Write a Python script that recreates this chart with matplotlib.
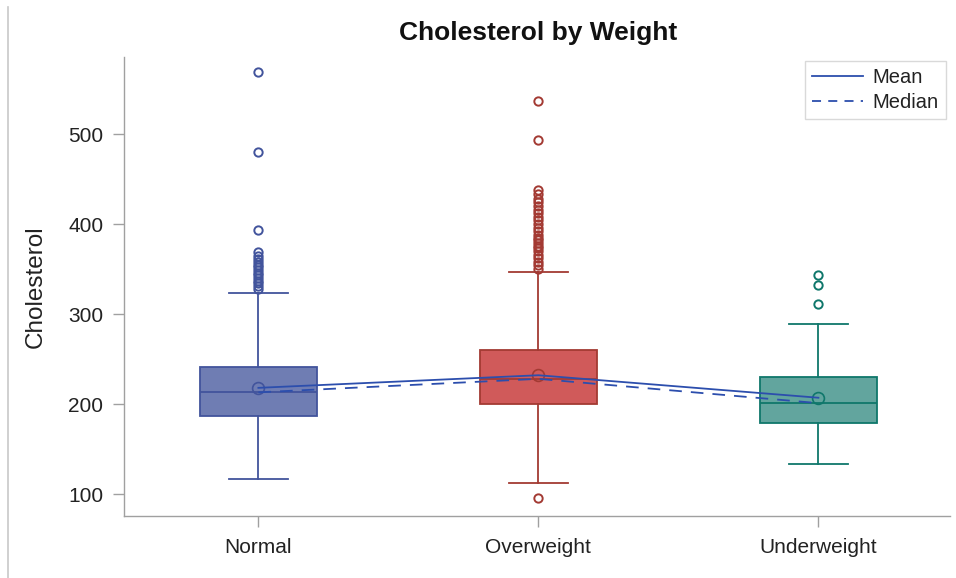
import matplotlib
matplotlib.use("Agg")
import matplotlib.pyplot as plt
from matplotlib.lines import Line2D

plt.rcParams['font.family'] = ['Liberation Sans', 'DejaVu Sans']

categories = ["Normal", "Overweight", "Underweight"]
q1 = [187, 200, 179]
q3 = [241, 260, 230]
medians = [213, 228, 201]
means = [218, 232, 207]
whisker_low = [117, 112, 133]
whisker_high = [323, 347, 289]
outliers = [
    [569, 480, 393, 369, 365, 361, 358, 355, 352, 349, 346, 343, 340, 337, 334, 331, 328],
    [537, 493, 438, 433, 428, 424, 420, 416, 412, 408, 404, 400, 396, 392, 388, 385,
     382, 379, 376, 373, 370, 366, 362, 358, 354, 350, 96],
    [343, 332, 311],
]
yticks = [100, 200, 300, 400, 500]

fill_colors = ["#6f7db3", "#d05a5a", "#62a59e"]
edge_colors = ["#42549c", "#a33a33", "#0f776b"]
line_color = "#2c4ead"

fig = plt.figure(figsize=(9.56, 5.78), dpi=100)
ax = fig.add_axes([124/956, 62/578, (950-124)/956, (516-57)/578])

positions = list(range(len(categories)))
for i in positions:
    stats = [dict(med=medians[i], q1=q1[i], q3=q3[i], whislo=whisker_low[i],
                  whishi=whisker_high[i], fliers=outliers[i], mean=means[i])]
    ec = edge_colors[i]
    ax.bxp(stats, positions=[i], widths=0.42, patch_artist=True, showmeans=True,
           boxprops=dict(facecolor=fill_colors[i], edgecolor=ec, linewidth=1.3),
           medianprops=dict(color=ec, linewidth=1.3),
           whiskerprops=dict(color=ec, linewidth=1.3),
           capprops=dict(color=ec, linewidth=1.3),
           capwidths=0.21,
           flierprops=dict(marker='o', markerfacecolor='none', markeredgecolor=ec,
                           markersize=6, markeredgewidth=1.4),
           meanprops=dict(marker='o', markerfacecolor='none', markeredgecolor=ec,
                          markersize=8.5, markeredgewidth=1.2),
           manage_ticks=False)

ax.plot(positions, means, color=line_color, linewidth=1.3, zorder=5)
ax.plot(positions, medians, color=line_color, linewidth=1.3, linestyle=(0, (7, 5)), zorder=5)

ax.set_xlim(-0.48, 2.47)
ax.set_ylim(75.6, 585.6)
ax.set_xticks(positions)
ax.set_xticklabels(categories, fontsize=15, color="#222222")
ax.set_yticks(yticks)
ax.set_yticklabels([str(v) for v in yticks], fontsize=15, color="#222222")
ax.set_ylabel("Cholesterol", fontsize=17.5, color="#222222", va='center')
ax.yaxis.set_label_coords((36-124)/826, 0.5)

for s in ["top", "right"]:
    ax.spines[s].set_visible(False)
for s in ["left", "bottom"]:
    ax.spines[s].set_color("#a0a0a0")
    ax.spines[s].set_linewidth(1.0)
ax.tick_params(axis='both', colors="#a0a0a0", length=8, width=1.0, labelcolor="#222222")
ax.tick_params(axis='x', pad=8)
ax.tick_params(axis='y', pad=7)

fig.text(538/956, 1-33/578, "Cholesterol by Weight", ha='center', va='center',
         fontsize=19, fontweight='bold', color="#111111")

handles = [Line2D([], [], color=line_color, linewidth=1.3),
           Line2D([], [], color=line_color, linewidth=1.3, linestyle=(0, (5, 4)))]
leg = ax.legend(handles, ["Mean", "Median"], loc='upper right',
                bbox_to_anchor=(946/956, 1-61/578), bbox_transform=fig.transFigure,
                fontsize=14.5, frameon=True, fancybox=False, borderpad=0.35,
                handlelength=2.5, handletextpad=0.5, labelspacing=0.3,
                borderaxespad=0)
leg.get_frame().set_edgecolor("#d0d0d0")
leg.get_frame().set_linewidth(1.0)
for t in leg.get_texts():
    t.set_color("#222222")

fig.add_artist(Line2D([8/956, 8/956], [0, 1-7/578], transform=fig.transFigure,
                      color="#c8c8c8", linewidth=1.2))

fig.savefig("out.png", dpi=100)
